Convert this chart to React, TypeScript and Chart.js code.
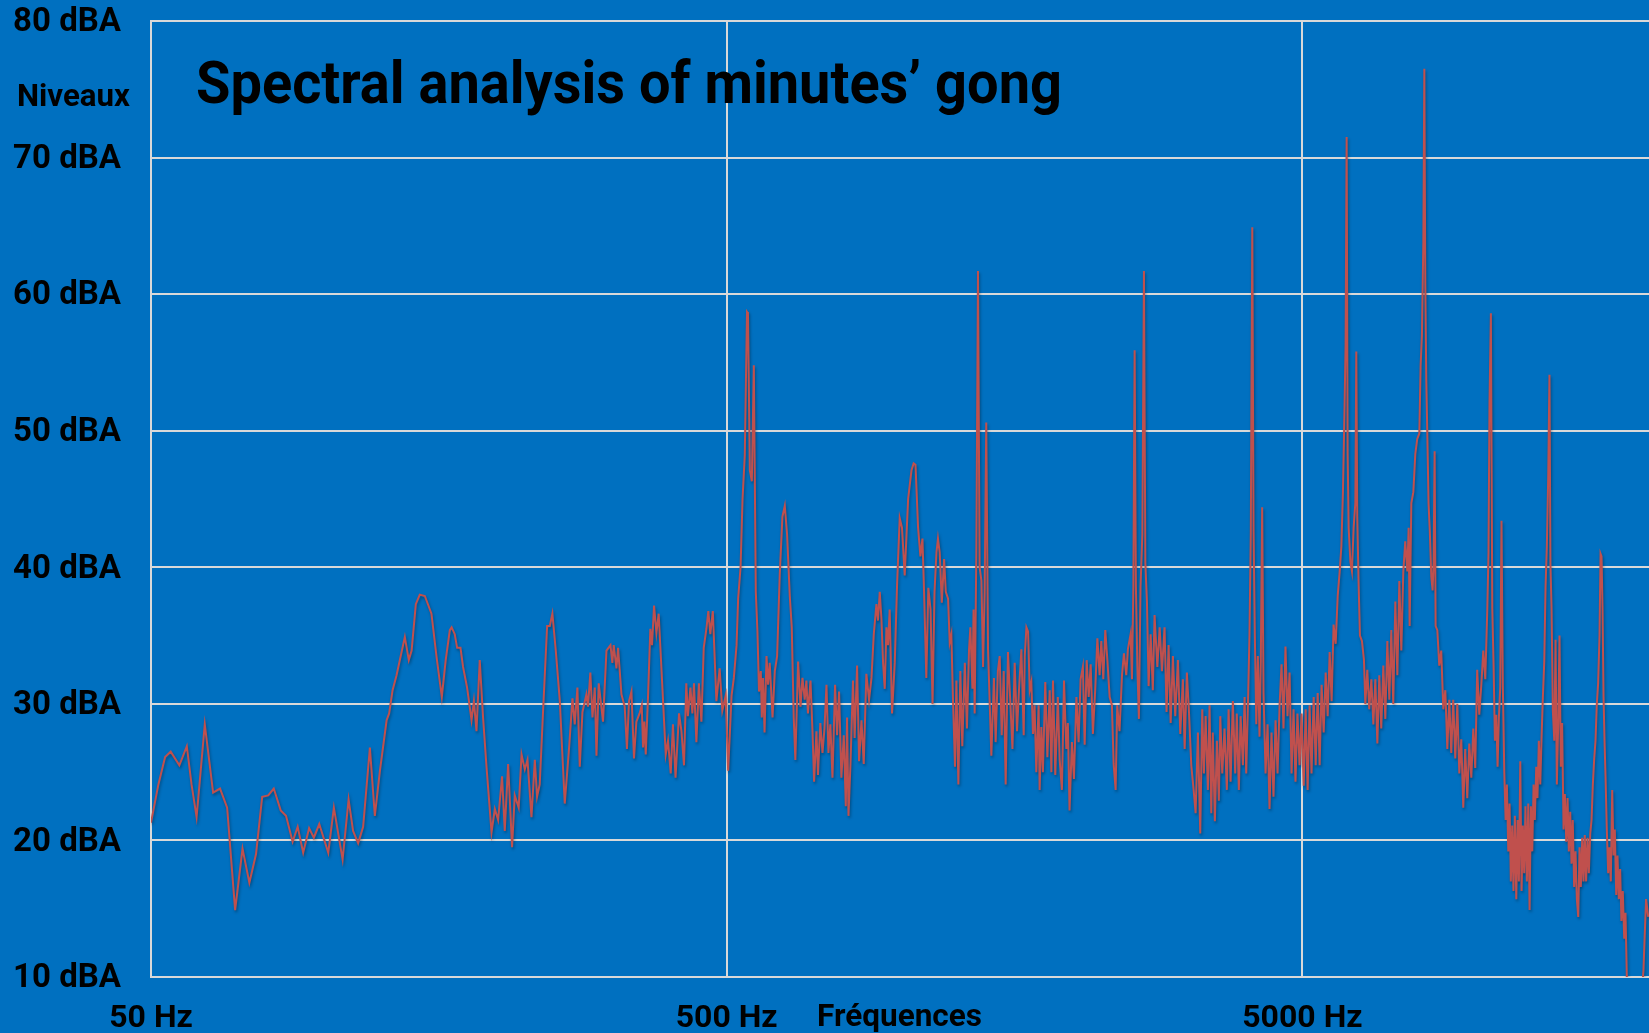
import React, { useEffect, useRef } from 'react';
import { Chart, registerables } from 'chart.js';

Chart.register(...registerables);

const TITLE = 'Spectral analysis of minutes’ gong';
const Y_TITLE = 'Niveaux';
const X_TITLE = 'Fréquences';
const X_TICKS = [50, 500, 5000];
const X_MIN = 50;
const X_MAX = 20000;
const Y_MIN = 10;
const Y_MAX = 80;
const Y_STEP = 10;

// [frequency in Hz, level in dBA]
const LOW_BAND: [number, number][] = [
  [50, 21.3], [51.5, 24.1], [52.9, 26.1], [54.1, 26.5], [56.0, 25.5], [57.7, 26.9], [58.8, 24.1],
  [60.0, 21.7], [62.0, 28.5], [64.1, 23.5], [65.9, 23.8], [67.8, 22.4], [70.0, 14.9], [72.1, 19.4],
  [74.1, 16.9], [76.1, 19.0], [78.0, 23.2], [79.9, 23.3], [81.7, 23.8], [84.0, 22.2], [85.8, 21.8],
  [88.1, 19.9], [89.9, 21.0], [91.9, 19.1], [94.1, 20.9], [95.9, 20.2], [98.0, 21.2], [101.6, 19.1],
  [103.9, 22.4], [107.6, 18.6], [110.2, 23.0], [112.2, 20.7], [114.5, 19.8], [116.8, 21.0],
  [120.0, 26.8], [122.4, 21.8], [124.9, 25.1], [128.3, 28.8], [129.6, 29.3], [131.4, 31.0],
  [133.5, 32.1], [138.0, 34.9], [140.2, 33.2], [141.8, 33.9], [144.2, 37.3], [146.5, 38.0],
  [149.5, 37.9], [153.5, 36.6], [156.7, 33.4], [160.0, 30.5], [162.5, 33.2], [165.2, 35.4],
  [166.4, 35.6], [168.5, 35.1], [170.1, 34.1], [172.4, 34.1], [174.2, 32.7], [177.0, 31.2],
  [180.2, 28.8], [181.9, 30.2], [183.8, 28.0], [186.2, 33.2], [188.7, 29.0], [191.3, 25.4],
  [195.2, 20.6], [197.8, 22.3], [200.4, 21.5], [203.6, 24.7], [205.8, 20.7], [208.6, 25.6],
  [211.9, 19.5], [214.2, 23.3], [217.6, 22.4], [220.1, 26.3], [223.0, 25.2], [225.4, 25.9],
  [229.0, 21.7], [232.1, 25.9], [234.2, 23.2], [236.7, 24.1], [239.9, 29.5], [243.8, 35.7],
  [246.4, 35.7], [249.0, 36.6], [252.4, 33.9], [256.5, 30.2], [261.6, 22.7], [266.2, 26.8],
  [269.8, 30.4], [272.3, 28.5], [275.2, 31.2], [277.8, 25.4], [280.8, 29.4], [285.3, 30.7],
  [287.1, 29.8], [289.8, 32.3], [292.3, 29.0], [295.0, 31.2], [297.0, 26.2], [299.7, 31.5],
  [304.9, 28.7], [309.1, 33.9], [314.1, 34.3], [316.5, 33.0], [318.2, 34.3], [321.7, 32.6],
  [323.8, 34.1], [328.2, 30.7], [332.5, 29.8], [335.5, 26.7], [338.3, 30.2], [341.6, 30.9],
  [345.1, 26.0], [348.4, 28.7], [352.9, 29.3], [356.0, 29.9], [357.8, 26.8], [359.8, 28.7],
  [361.7, 26.3], [365.0, 30.5], [368.4, 35.5], [370.9, 34.3], [373.9, 37.2], [377.5, 35.2],
  [380.9, 36.6], [385.0, 32.7], [391.8, 26.3], [395.4, 27.3], [399.7, 24.9], [403.3, 28.5],
  [407.5, 24.6], [413.2, 29.3], [417.2, 28.0], [421.5, 25.5], [425.4, 31.5], [428.1, 29.1],
  [432.5, 31.2], [435.9, 29.3], [438.7, 31.5], [442.9, 27.2], [447.4, 31.5], [451.9, 28.7],
  [456.1, 34.1], [461.0, 35.5], [464.6, 36.8], [468.3, 35.1], [473.0, 36.8], [479.8, 30.2],
  [486.1, 32.6], [491.3, 29.5], [498.0, 30.6],
];

const MID_BAND: [number, number][] = [
  [502.9, 25.1], [509.8, 30.6], [514.5, 31.9], [520.1, 34.3], [523.4, 37.7], [528.5, 40.0],
  [532.7, 45.0], [537.5, 48.2], [542.3, 58.7], [544.4, 58.6], [548.5, 47.1], [552.9, 46.3],
  [557.3, 54.8], [561.7, 38.2], [565.4, 35.3], [569.0, 30.9], [573.1, 32.4], [575.4, 29.0],
  [578.4, 31.9], [581.7, 27.9], [586.3, 33.5], [590.0, 31.4], [593.9, 33.0], [600.6, 29.0],
  [606.1, 32.4], [611.7, 33.5], [618.2, 39.5], [624.8, 43.7], [630.8, 44.5], [636.6, 42.4],
  [643.5, 37.9], [648.6, 35.6], [653.7, 29.0], [658.0, 25.9], [665.3, 33.1], [671.7, 29.8],
  [677.0, 31.9], [683.1, 30.3], [687.7, 31.7], [692.0, 29.3], [699.1, 31.7], [704.7, 28.0],
  [709.2, 24.3], [715.9, 28.0], [720.3, 24.8], [727.1, 28.6], [733.5, 26.4], [739.3, 28.2],
  [745.2, 31.4], [751.1, 26.4], [756.9, 28.5], [763.3, 24.6], [771.3, 31.4], [777.5, 27.7],
  [783.7, 30.9], [791.0, 24.6], [798.6, 27.7], [805.1, 22.5], [809.2, 29.0], [813.8, 21.8],
  [820.3, 25.6], [828.6, 31.7], [834.1, 27.5], [842.3, 32.8], [849.0, 25.8], [857.2, 28.8],
  [865.0, 25.6], [874.1, 32.2], [883.6, 30.3], [892.2, 31.9], [900.4, 35.1], [910.0, 37.3],
  [915.7, 36.1], [922.2, 38.2], [928.5, 36.2], [934.5, 33.0], [940.8, 31.1], [947.2, 35.6],
  [953.1, 34.3], [959.5, 36.9], [968.7, 29.3], [979.2, 33.0], [988.3, 38.7], [998.8, 43.6],
  [1008, 42.9], [1019, 39.4], [1033, 45.0], [1047, 47.1], [1056, 47.6], [1064, 47.5],
  [1075, 42.9], [1085, 40.8], [1094, 42.1], [1101, 38.2], [1111, 31.9], [1120, 38.5],
  [1130, 36.9], [1139, 30.0], [1148, 38.2], [1157, 41.1], [1164, 42.1], [1172, 41.1],
  [1182, 37.4], [1193, 40.6], [1201, 38.2], [1212, 37.7], [1220, 34.5], [1228, 35.1],
  [1236, 30.3], [1246, 25.4], [1253, 31.7], [1263, 24.1], [1273, 32.4], [1283, 26.9],
  [1296, 33.0], [1307, 28.2], [1318, 34.0], [1325, 35.6], [1336, 31.1], [1342, 36.9],
  [1348, 29.3], [1357, 41.1], [1366, 61.7], [1375, 40.0], [1385, 39.0], [1394, 32.7],
  [1403, 38.2], [1412, 50.6], [1422, 34.0], [1441, 26.2], [1456, 31.9], [1466, 27.2],
  [1479, 32.4], [1490, 33.5], [1502, 27.7], [1514, 32.4], [1526, 24.1], [1540, 33.8],
  [1554, 30.3], [1568, 26.7], [1582, 33.0], [1597, 28.0], [1609, 30.9], [1625, 34.0],
  [1640, 27.7], [1647, 33.5], [1658, 35.6], [1669, 35.3], [1680, 31.0], [1691, 31.6],
  [1702, 27.8], [1713, 29.9], [1725, 25.0], [1741, 29.9], [1748, 23.7], [1760, 28.3],
  [1771, 25.0], [1788, 31.6], [1803, 26.1], [1820, 31.0], [1832, 25.0], [1844, 31.7],
  [1861, 24.8], [1880, 30.5], [1894, 25.9], [1911, 23.7], [1927, 31.7], [1945, 26.7],
  [1957, 28.6], [1970, 22.2], [1989, 27.2], [2005, 24.5], [2025, 30.5], [2043, 27.2],
  [2059, 31.8], [2078, 32.7], [2093, 27.0], [2110, 33.2], [2127, 30.5], [2144, 32.9],
  [2163, 27.8], [2183, 31.0], [2202, 34.8], [2222, 32.1], [2237, 34.6], [2255, 31.8],
  [2273, 35.4], [2292, 33.2], [2313, 30.5], [2334, 29.9], [2350, 25.6], [2369, 23.7],
  [2384, 29.9], [2406, 28.0], [2430, 32.1], [2449, 33.7], [2472, 32.1], [2488, 34.0],
  [2515, 35.1], [2529, 31.8], [2543, 38.6], [2556, 55.9], [2569, 38.6], [2584, 32.7],
  [2600, 28.9], [2617, 38.6], [2636, 42.4], [2653, 61.7], [2668, 40.3], [2685, 37.5],
  [2703, 31.3], [2725, 35.1], [2749, 31.0], [2768, 36.5], [2799, 32.7], [2825, 35.6],
  [2851, 32.4], [2881, 35.6], [2904, 29.4], [2928, 34.3], [2952, 28.6], [2979, 33.5],
  [3007, 29.1], [3039, 33.2], [3068, 27.8], [3100, 31.8], [3122, 26.7], [3150, 32.3],
  [3175, 29.6], [3206, 25.5], [3236, 23.7], [3262, 22.0], [3292, 27.9], [3323, 20.5],
  [3350, 29.6], [3372, 24.9], [3395, 29.1], [3426, 23.7], [3449, 29.9], [3473, 22.0],
  [3494, 27.9], [3523, 21.4], [3552, 27.3], [3580, 22.9], [3600, 29.1], [3629, 24.9],
  [3662, 28.2], [3696, 23.7], [3722, 29.6], [3752, 24.3], [3786, 30.2], [3822, 24.9],
  [3846, 29.3], [3878, 23.7], [3905, 29.1], [3941, 25.5], [3968, 30.5], [3994, 24.9],
  [4026, 30.8], [4046, 35.0], [4068, 42.6], [4092, 64.9], [4113, 42.6], [4134, 35.0],
  [4158, 28.5], [4184, 33.5], [4212, 27.6], [4234, 33.2], [4257, 44.4], [4280, 30.8],
  [4315, 24.9], [4350, 28.5], [4384, 22.3], [4419, 27.9], [4454, 23.2], [4491, 28.8],
  [4527, 24.9], [4564, 29.9], [4600, 32.9], [4636, 28.2], [4673, 34.2], [4711, 29.1],
  [4750, 32.3], [4788, 24.9], [4826, 29.6], [4864, 24.3], [4902, 29.3], [4943, 25.5],
  [4983, 29.3],
];

const HIGH_BAND: [number, number][] = [
  [5026, 24.0], [5066, 29.6], [5106, 23.7], [5146, 29.9], [5186, 24.9], [5231, 30.5],
  [5273, 25.5], [5315, 30.8], [5357, 25.5], [5399, 31.4], [5444, 27.9], [5488, 32.3],
  [5532, 29.1], [5576, 33.8], [5620, 30.2], [5664, 35.8], [5712, 34.4], [5758, 37.9],
  [5804, 39.7], [5843, 41.5], [5880, 45.5], [5919, 51.9], [5943, 56.3], [5968, 71.5],
  [5992, 48.3], [6016, 42.9], [6058, 40.4], [6096, 39.7], [6137, 42.9], [6179, 44.7],
  [6203, 55.8], [6227, 43.7], [6259, 39.0], [6294, 35.0], [6345, 34.6], [6396, 33.2],
  [6431, 30.0], [6482, 32.5], [6533, 29.6], [6588, 31.8], [6641, 28.5], [6694, 31.8],
  [6748, 27.1], [6801, 32.1], [6854, 28.2], [6911, 32.8], [6967, 28.9], [7023, 34.6],
  [7079, 30.3], [7135, 35.4], [7191, 30.0], [7251, 37.5], [7310, 32.1], [7368, 39.0],
  [7427, 33.9], [7486, 39.7], [7545, 41.9], [7607, 39.7], [7647, 42.9], [7678, 35.7],
  [7730, 44.7], [7792, 45.5], [7854, 48.3], [7915, 49.4], [7981, 49.8], [8023, 54.8],
  [8065, 57.0], [8110, 63.8], [8143, 76.5], [8175, 60.6], [8207, 53.7], [8240, 49.8],
  [8281, 44.7], [8324, 42.6], [8373, 39.3], [8417, 38.3], [8451, 40.4], [8485, 48.5],
  [8519, 35.7], [8577, 35.4], [8644, 32.8], [8712, 33.9], [8785, 29.6], [8856, 31.0],
  [8927, 26.7], [8998, 30.3], [9069, 26.4], [9140, 30.3], [9216, 26.0], [9291, 30.0],
  [9365, 24.9], [9440, 27.4], [9515, 22.4], [9589, 26.7], [9669, 23.1], [9747, 27.1],
  [9826, 24.6], [9904, 28.2], [9982, 25.3], [10060, 32.5], [10144, 29.2], [10227, 31.4],
  [10309, 33.9], [10391, 31.8], [10473, 36.8], [10526, 41.1], [10567, 51.9], [10626, 58.6],
  [10686, 37.0], [10742, 32.8], [10798, 27.3], [10858, 29.2], [10914, 25.4], [10970, 28.9],
  [11030, 31.2], [11087, 43.4], [11148, 31.2], [11211, 25.0], [11270, 21.5], [11329, 24.1],
  [11392, 19.2], [11451, 22.7], [11509, 17.0], [11573, 21.1], [11631, 16.3], [11696, 21.8],
  [11762, 15.7], [11824, 21.5], [11886, 17.0], [11952, 25.8], [12014, 16.3], [12075, 21.1],
  [12142, 17.6], [12203, 22.5], [12271, 17.0], [12341, 22.7], [12405, 14.9], [12470, 22.5],
  [12540, 19.2], [12604, 24.1], [12669, 21.5], [12739, 25.4], [12803, 23.1], [12873, 27.3],
  [12947, 24.1], [13015, 27.6], [13082, 30.5], [13155, 33.1], [13223, 38.6], [13291, 41.5],
  [13364, 46.6], [13432, 54.1], [13484, 40.2], [13544, 37.0], [13615, 29.5], [13692, 27.3],
  [13763, 34.7], [13834, 24.1], [13911, 28.6], [13982, 35.0], [14054, 25.4], [14130, 28.6],
  [14210, 20.8], [14285, 23.4], [14365, 19.9], [14440, 23.1], [14514, 19.2], [14595, 22.1],
  [14670, 18.3], [14744, 21.5], [14825, 16.6], [14908, 19.2], [14987, 15.7], [15071, 14.4],
  [15149, 19.5], [15228, 16.6], [15312, 20.2], [15391, 17.0], [15469, 20.4], [15553, 17.0],
  [15641, 20.2], [15723, 17.6], [15811, 20.5], [15894, 21.5], [15976, 24.1], [16064, 26.0],
  [16147, 27.3], [16229, 29.9], [16317, 31.5], [16409, 35.0], [16476, 41.0], [16542, 40.8],
  [16608, 37.0], [16675, 30.5], [16741, 27.3], [16808, 24.7], [16894, 20.8], [16987, 17.6],
  [17073, 19.5], [17167, 17.0], [17264, 23.7], [17355, 18.9], [17445, 20.8], [17543, 16.0],
  [17633, 18.9], [17724, 15.7], [17821, 17.9], [17911, 14.1], [18010, 16.3], [18112, 12.8],
  [18207, 14.7], [18302, 10.0], [18427, 8.0], [18949, 7.5], [19485, 9.5], [19562, 10.5],
  [19638, 12.5], [19768, 15.7], [19937, 14.4],
];

const BG = '#0070C0';
const GRID = '#D9D9D9';
const LINE = '#C0504D';
const TEXT = '#000000';
const FONT_FAMILY = 'Roboto, "DejaVu Sans", sans-serif';

function drawFitted(
  ctx: CanvasRenderingContext2D,
  text: string,
  left: number,
  baseline: number,
  width: number,
  size: number,
) {
  ctx.save();
  ctx.font = `bold ${size}px ${FONT_FAMILY}`;
  ctx.fillStyle = TEXT;
  ctx.textAlign = 'left';
  ctx.textBaseline = 'alphabetic';
  const w = ctx.measureText(text).width;
  ctx.translate(left, baseline);
  ctx.scale(width / w, 1);
  ctx.fillText(text, 0, 0);
  ctx.restore();
}

export default function App() {
  const canvasRef = useRef<HTMLCanvasElement | null>(null);

  useEffect(() => {
    const canvas = canvasRef.current;
    if (!canvas) return;
    const points = [...LOW_BAND, ...MID_BAND, ...HIGH_BAND].map(([x, y]) => ({ x, y }));

    const overlay = {
      id: 'overlay',
      beforeDatasetDraw(chart: any) {
        const ctx = chart.ctx;
        ctx.save();
        ctx.shadowColor = 'rgba(0,0,0,0.35)';
        ctx.shadowBlur = 3;
        ctx.shadowOffsetX = 1;
        ctx.shadowOffsetY = 2;
      },
      afterDatasetDraw(chart: any) {
        chart.ctx.restore();
      },
      afterDraw(chart: any) {
        const ctx = chart.ctx as CanvasRenderingContext2D;
        drawFitted(ctx, TITLE, 196, 103, 866, 60);
        drawFitted(ctx, Y_TITLE, 17, 106, 113, 31);
        drawFitted(ctx, X_TITLE, 817, 1026, 165, 31);
      },
    };

    const xTickFont = { family: FONT_FAMILY, size: 32, weight: 'bold' as const };
    const yTickFont = { family: FONT_FAMILY, size: 33, weight: 'bold' as const };

    const chart = new Chart(canvas, {
      type: 'line',
      data: {
        datasets: [
          {
            data: points,
            borderColor: LINE,
            borderWidth: 2,
            pointRadius: 0,
            tension: 0,
            fill: false,
          },
        ],
      },
      options: {
        animation: false,
        responsive: true,
        maintainAspectRatio: false,
        layout: { padding: { top: 21, right: 0, bottom: 0, left: 0 } },
        plugins: {
          legend: { display: false },
          tooltip: { enabled: false },
          title: { display: false },
        },
        scales: {
          x: {
            type: 'logarithmic',
            min: X_MIN,
            max: X_MAX,
            afterBuildTicks: (scale: any) => {
              scale.ticks = X_TICKS.map((v) => ({ value: v }));
            },
            afterFit: (scale: any) => {
              scale.height = 56;
              scale.paddingLeft = 0;
              scale.paddingRight = 0;
            },
            grid: { color: GRID, lineWidth: 2, drawTicks: false },
            border: { color: GRID, width: 2 },
            ticks: {
              color: TEXT,
              font: xTickFont,
              padding: 23,
              maxRotation: 0,
              autoSkip: false,
              callback: (v: any) => `${v} Hz`,
            },
          },
          y: {
            min: Y_MIN,
            max: Y_MAX,
            afterFit: (scale: any) => {
              scale.width = 151;
              scale.paddingTop = 0;
              scale.paddingBottom = 0;
            },
            grid: { color: GRID, lineWidth: 2, drawTicks: false },
            border: { color: GRID, width: 2 },
            ticks: {
              stepSize: Y_STEP,
              color: TEXT,
              font: yTickFont,
              padding: 30,
              labelOffset: 2,
              callback: (v: any) => `${v} dBA`,
            },
          },
        },
      },
      plugins: [overlay],
    });

    return () => chart.destroy();
  }, []);

  return (
    <div
      style={{
        position: 'fixed',
        left: 0,
        top: 0,
        width: 1649,
        height: 1033,
        background: BG,
      }}
    >
      <canvas ref={canvasRef} />
    </div>
  );
}
